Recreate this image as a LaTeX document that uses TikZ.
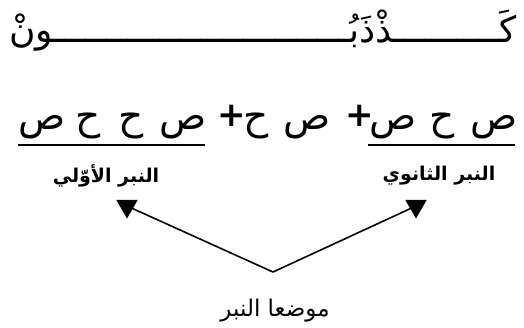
\documentclass[tikz,border=0pt]{standalone}
\usepackage{fontspec}
\TeXXeTstate=1
\newfontfamily\arabicfont[Script=Arabic]{DejaVu Sans}
\usetikzlibrary{shapes.geometric}
\ExplSyntaxOn
\cs_new:Npn \tatrep #1 { \prg_replicate:nn {#1} {ـ} }
\ExplSyntaxOff
\begin{document}
\begin{tikzpicture}[x=1pt,y=-1pt,
  word/.style={font=\arabicfont\fontsize{36}{40}\selectfont, inner sep=0pt, anchor=base},
  glyph/.style={font=\arabicfont\fontsize{39}{44}\selectfont, inner sep=0pt, anchor=base},
  plus/.style={font=\arabicfont\bfseries\fontsize{34}{38}\selectfont, inner sep=0pt},
  lbl/.style={font=\arabicfont\bfseries\fontsize{19}{22}\selectfont, inner sep=0pt},
  lblr/.style={font=\arabicfont\fontsize{23}{26}\selectfont, inner sep=0pt},
  uline/.style={line width=2.6pt},
  conn/.style={line width=1.6pt},
  tri/.style={regular polygon, regular polygon sides=3, shape border rotate=180,
    fill=black, draw=none, inner sep=0pt, minimum size=25pt}]
\useasboundingbox (0,0) rectangle (524,327);
\fill[white] (0,0) rectangle (524,327);
% top word
\node[word] (top) at (263,42) {\beginR كَ\tatrep{10}ذْذَبُ\tatrep{28}ونْ\endR};
% syllable row (visual left to right)
\node[glyph] (g1) at (42,129) {ص};
\node[glyph] (g2) at (88,129) {ح};
\node[glyph] (g3) at (131,129) {ح};
\node[glyph] (g4) at (183,129) {ص};
\node[plus]  (p1) at (232,116) {+};
\node[glyph] (g5) at (256,129) {ح};
\node[glyph] (g6) at (307,129) {ص};
\node[plus]  (p2) at (360,116) {+};
\node[glyph] (g7) at (393,129) {ص};
\node[glyph] (g8) at (442,129) {ح};
\node[glyph] (g9) at (494,129) {ص};
% underlines
\coordinate (u1a) at (18,145);
\coordinate (u1b) at (205,145);
\coordinate (u2a) at (368,145);
\coordinate (u2b) at (515,145);
\draw[uline] (u1a) -- (u1b);
\draw[uline] (u2a) -- (u2b);
% labels
\node[lbl] (primary) at (106,176) {\beginR النبر الأوّلي\endR};
\node[lbl] (secondary) at (439,176) {\beginR النبر الثانوي\endR};
\node[lblr] (sites) at (275,311) {\beginR موضعا النبر\endR};
% arrows
\coordinate (apex) at (273,272);
\node[tri] (tl) at (127,206) {};
\node[tri] (tr) at (416,206) {};
\draw[conn] (apex) -- (tl.center);
\draw[conn] (apex) -- (tr.center);
\end{tikzpicture}
\end{document}
